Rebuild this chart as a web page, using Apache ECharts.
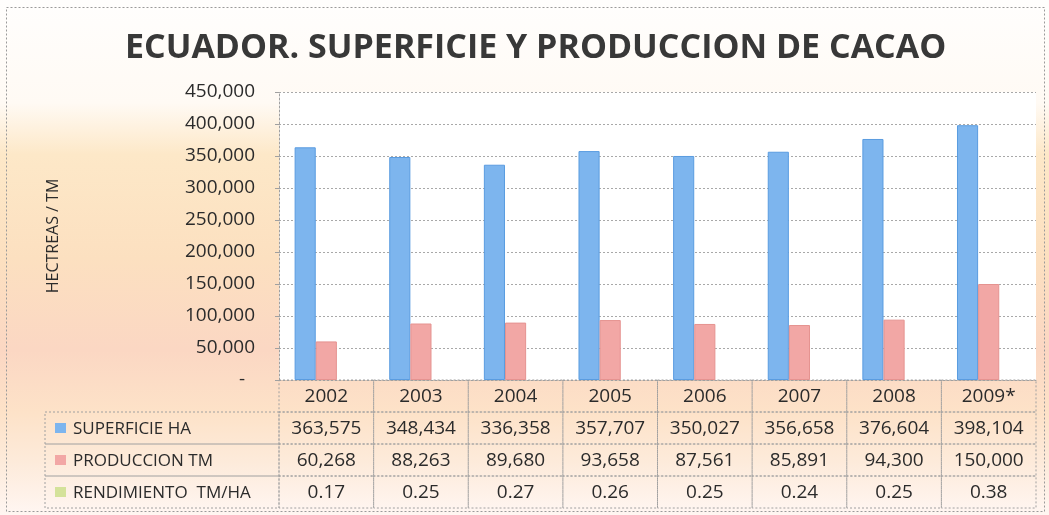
<!DOCTYPE html>
<html>
<head>
<meta charset="utf-8">
<script src="https://cdn.jsdelivr.net/npm/echarts@6/dist/echarts.min.js"></script>
<style>html,body{margin:0;padding:0;background:#fff}#c{width:1049px;height:515px}</style>
</head>
<body>
<div id="c"></div>
<script>
const titleText = 'ECUADOR. SUPERFICIE Y PRODUCCION DE CACAO';
const yAxisName = 'HECTREAS / TM';
const years = ['2002','2003','2004','2005','2006','2007','2008','2009*'];
const seriesNames = ['SUPERFICIE HA','PRODUCCION TM','RENDIMIENTO  TM/HA'];
const superficie = [363575,348434,336358,357707,350027,356658,376604,398104];
const produccion = [60268,88263,89680,93658,87561,85891,94300,150000];
const rendimiento = [0.17,0.25,0.27,0.26,0.25,0.24,0.25,0.38];
const yMin = 0, yMax = 450000, yInterval = 50000;

const colors = ['#7db5ee','#f2a7a5','#d4e29a'];
const borders = ['#5a9ce0','#e59390','#b8c878'];
const FONT = '"Open Sans", sans-serif';
const txtColor = '#2b2b2b';

const fmt = v => v.toLocaleString('en-US');

// table cells
const cells = [];
const cellInfo = [];
years.forEach((y, i) => {
  cells.push([i, 0]); cellInfo.push({kind: 'val', text: y});
  cells.push([i, 1]); cellInfo.push({kind: 'val', text: fmt(superficie[i])});
  cells.push([i, 2]); cellInfo.push({kind: 'val', text: fmt(produccion[i])});
  cells.push([i, 3]); cellInfo.push({kind: 'val', text: rendimiento[i].toFixed(2)});
});
seriesNames.forEach((n, k) => {
  cells.push([0, k + 1]); cellInfo.push({kind: 'label', text: n, color: colors[k]});
});

const chart = echarts.init(document.getElementById('c'), null, {renderer: 'canvas'});
const dash = [2, 2];
chart.setOption({
  animation: false,
  backgroundColor: {
    type: 'linear', x: 0, y: 0, x2: 0, y2: 1,
    colorStops: [
      {offset: 0, color: '#fffefd'},
      {offset: 0.2, color: '#fffaf4'},
      {offset: 0.3, color: '#fde8c8'},
      {offset: 0.5, color: '#fce0c0'},
      {offset: 0.68, color: '#fbd7c3'},
      {offset: 0.8, color: '#fde2c8'},
      {offset: 0.9, color: '#fdebdb'},
      {offset: 1, color: '#fff6f2'}
    ]
  },
  title: {
    text: titleText,
    left: 120,
    top: 26,
    padding: 5,
    textStyle: {fontFamily: FONT, fontWeight: 'bold', fontSize: 34, color: '#383838'}
  },
  graphic: [{
    type: 'rect', z: -1, silent: true,
    shape: {x: 6.5, y: 7.5, width: 1038, height: 504},
    style: {fill: 'none', stroke: '#9a9a9a', lineWidth: 1, lineDash: dash}
  }],
  grid: [
    {left: 279, right: 13, top: 92, height: 288, show: true, backgroundColor: '#ffffff', borderWidth: 0},
    {left: 279, right: 13, top: 380, height: 128, show: false}
  ],
  xAxis: [
    {type: 'category', gridIndex: 0, data: years,
     axisLine: {show: true, lineStyle: {color: '#a0a0a0', type: dash}},
     axisTick: {show: false}, axisLabel: {show: false}},
    {type: 'category', gridIndex: 1, data: years, show: false}
  ],
  yAxis: [
    {type: 'value', gridIndex: 0, min: yMin, max: yMax, interval: yInterval,
     name: yAxisName, nameLocation: 'middle', nameGap: 218, nameRotate: 90,
     nameTextStyle: {fontFamily: FONT, fontSize: 16, color: txtColor},
     axisLine: {show: true, lineStyle: {color: '#a0a0a0', type: dash}},
     axisTick: {show: true, length: 4, lineStyle: {color: '#a0a0a0'}},
     splitLine: {show: true, lineStyle: {color: '#a8a8a8', type: dash}},
     axisLabel: {margin: 24, fontFamily: FONT, fontSize: 19, color: txtColor,
       formatter: v => v === 0 ? '-  ' : fmt(v)}},
    {type: 'category', gridIndex: 1, data: ['h','s','p','r'], inverse: true, show: false}
  ],
  series: [
    {name: seriesNames[0], type: 'bar', xAxisIndex: 0, yAxisIndex: 0, data: superficie,
     barGap: '0%', barCategoryGap: '33%',
     itemStyle: {color: colors[0], borderColor: borders[0], borderWidth: 1}},
    {name: seriesNames[1], type: 'bar', xAxisIndex: 0, yAxisIndex: 0, data: produccion,
     barGap: '0%', barCategoryGap: '33%',
     itemStyle: {color: colors[1], borderColor: borders[1], borderWidth: 1}},
    {name: seriesNames[2], type: 'bar', xAxisIndex: 0, yAxisIndex: 0, data: rendimiento,
     barGap: '0%', barCategoryGap: '33%',
     itemStyle: {color: colors[2]}},
    {type: 'custom', xAxisIndex: 1, yAxisIndex: 1, data: cells, clip: false,
     renderItem: (params, api) => {
       const info = cellInfo[params.dataIndex];
       const c = api.coord([api.value(0), api.value(1)]);
       const s = api.size([1, 1]);
       const y0 = c[1] - s[1] / 2;
       if (info.kind === 'val') {
         const x0 = c[0] - s[0] / 2;
         return {type: 'group', children: [
           {type: 'rect', shape: {x: x0, y: y0, width: s[0], height: s[1]},
            style: {fill: 'none', stroke: '#a0a0a0', lineWidth: 1, lineDash: dash}},
           {type: 'text', style: {text: info.text, x: c[0], y: c[1] + 1, align: 'center', verticalAlign: 'middle',
             fill: txtColor, font: '19px ' + FONT}}
         ]};
       }
       const left = 45;
       const right = params.coordSys.x;
       return {type: 'group', children: [
         {type: 'rect', shape: {x: left, y: y0, width: right - left, height: s[1]},
          style: {fill: 'none', stroke: '#a0a0a0', lineWidth: 1, lineDash: dash}},
         {type: 'rect', shape: {x: left + 10, y: c[1] - 5, width: 11, height: 10},
          style: {fill: info.color}},
         {type: 'text', style: {text: info.text, x: left + 28, y: c[1] + 1, align: 'left', verticalAlign: 'middle',
           fill: txtColor, font: '17px ' + FONT}}
       ]};
     }}
  ]
});
</script>
</body>
</html>
